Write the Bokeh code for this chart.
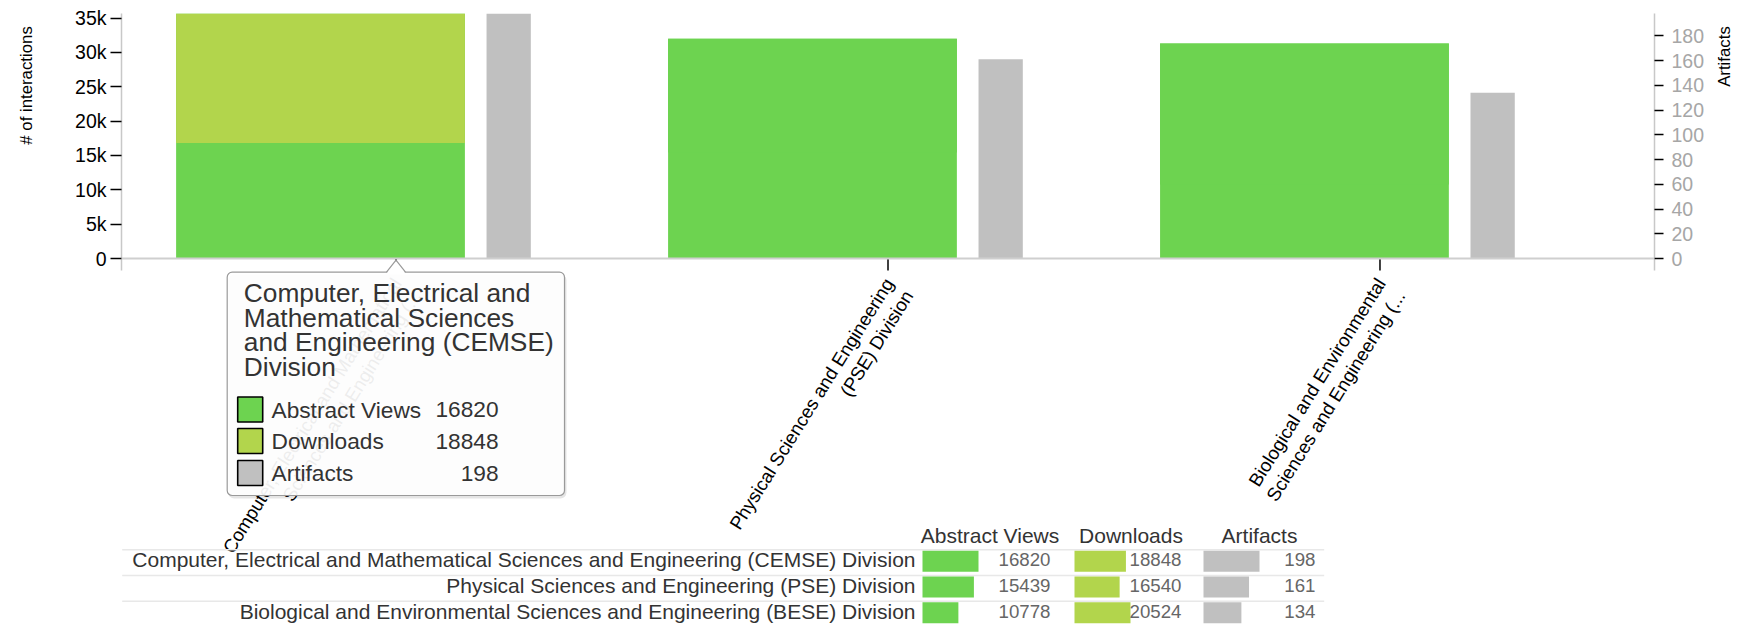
import math
import textwrap
from bokeh.plotting import figure
from bokeh.layouts import row
from bokeh.models import (FactorRange, Range1d, LinearAxis, FixedTicker, NumeralTickFormatter,
                          Span, BoxAnnotation, ColumnDataSource)
from bokeh.transform import dodge
from bokeh.core.properties import value
from bokeh.embed import file_html
from bokeh.resources import INLINE

# ---------------- data ----------------
categories = [
    "Computer, Electrical and Mathematical Sciences and Engineering (CEMSE) Division",
    "Physical Sciences and Engineering (PSE) Division",
    "Biological and Environmental Sciences and Engineering (BESE) Division",
]
tick_labels = [
    "Computer, Electrical and Mathematical\nSciences and Engineering (...",
    "Physical Sciences and Engineering\n(PSE) Division",
    "Biological and Environmental\nSciences and Engineering (...",
]
series = ["Abstract Views", "Downloads", "Artifacts"]
abstract_views = [16820, 15439, 10778]
downloads = [18848, 16540, 20524]
artifacts = [198, 161, 134]
left_ticks = [0, 5000, 10000, 15000, 20000, 25000, 30000, 35000]
right_ticks = [0, 20, 40, 60, 80, 100, 120, 140, 160, 180]
left_title = "# of interactions"
right_title = "Artifacts"
hovered = 0  # category shown in the tooltip

# ---------------- style / layout ----------------
GREEN = "#6dd350"
LIME = "#b2d54c"
GRAY = "#c0c0c0"
FONT = "Liberation Sans"
FS = "18.7px"        # category labels
TICK_FS = "19.5px"   # axis tick labels
TITLE_FS = "16.8px"  # axis titles
TAB_FS = "21px"      # table names / headers
VAL_FS = "18.7px"    # table values

TOTAL_W, H = 1745, 627
LEFT_W = 40                 # strip holding the left axis title
RIGHT_X = 1708              # strip holding the right axis title
FL, FR, FT, FB = 121, 1654, 13, H   # main frame edges in page pixels
Y0 = 258                              # baseline (value 0) in page pixels
PAD = 0.058                           # categorical padding per side
SPAN = len(categories) + 2 * PAD
UPX = SPAN / (FR - FL)                # categorical units per pixel


def sx(X):
    """page pixel -> categorical synthetic coordinate"""
    return -PAD + (X - FL) * UPX


totals = [a + d for a, d in zip(abstract_views, downloads)]
ymax_l = max(totals)
ymax_r = max(artifacts)
kl = (Y0 - FT) / ymax_l
kr = (Y0 - FT) / ymax_r

x_range = FactorRange(factors=categories, range_padding=PAD, range_padding_units="absolute")

p = figure(width=RIGHT_X - LEFT_W, height=H, x_range=x_range,
           y_range=Range1d(-(FB - Y0) / kl, ymax_l),
           output_backend="svg", toolbar_location=None, x_axis_location=None,
           min_border_left=FL - LEFT_W, min_border_right=RIGHT_X - FR,
           min_border_top=FT, min_border_bottom=0, title=None)
p.extra_y_ranges = {"art": Range1d(-(FB - Y0) / kr, ymax_r), "px": Range1d(FB, FT)}
p.grid.visible = False
p.outline_line_color = None
p.background_fill_color = "white"

# left axis
ax = p.yaxis[0]
ax.ticker = FixedTicker(ticks=left_ticks)
ax.formatter = NumeralTickFormatter(format="0a")
ax.bounds = (-12 / kl, ymax_l)
ax.axis_line_color = "#c8c8c8"
ax.axis_line_width = 1.5
ax.major_tick_line_color = "black"
ax.major_tick_line_width = 1.5
ax.major_tick_out = 11
ax.major_tick_in = 0
ax.minor_tick_line_color = None
ax.major_label_standoff = 4
ax.major_label_text_font = FONT
ax.major_label_text_font_size = TICK_FS
ax.major_label_text_color = "black"

# right axis
rax = LinearAxis(y_range_name="art", ticker=FixedTicker(ticks=right_ticks),
                 bounds=(-12 / kr, ymax_r))
rax.axis_line_color = "#c8c8c8"
rax.axis_line_width = 1.5
rax.major_tick_line_color = "black"
rax.major_tick_line_width = 1.5
rax.major_tick_out = 9
rax.major_tick_in = 0
rax.minor_tick_line_color = None
rax.major_label_standoff = 8
rax.major_label_text_font = FONT
rax.major_label_text_font_size = TICK_FS
rax.major_label_text_color = "#a6a6a6"
p.add_layout(rax, "right")

# baseline
p.add_layout(Span(location=0, dimension="width", line_color="#cfcfcf", line_width=2))

# ---------------- bars ----------------
src = ColumnDataSource(dict(
    cat=categories, av=abstract_views, total=totals, art=artifacts, lab=tick_labels,
    dl_color=[LIME if i == hovered else GREEN for i in range(len(categories))],
))
p.vbar(x=dodge("cat", -0.1535, range=p.x_range), width=0.587, bottom=0, top="total",
       source=src, fill_color=GREEN, line_color=None)
p.vbar(x=dodge("cat", -0.1535, range=p.x_range), width=0.587, bottom="av", top="total",
       source=src, fill_color="dl_color", line_color=None)
p.vbar(x=dodge("cat", 0.229, range=p.x_range), width=0.09, bottom=0, top="art",
       source=src, y_range_name="art", fill_color=GRAY, line_color=None)

# category ticks and labels
p.segment(x0="cat", y0=0, x1="cat", y1=-12 / kl, source=src, line_color="black", line_width=1.5)
p.text(x="cat", y=274, text="lab", source=src, y_range_name="px", x_offset=-8,
       angle=math.radians(58), text_align="right", text_baseline="top",
       text_font=value(FONT), text_font_size=FS, text_color="black", text_line_height=1.1)

# ---------------- tooltip ----------------
TL, TR, TT, TB = 226.7, 564, 271.7, 495
p.add_layout(BoxAnnotation(left=sx(TL + 1), right=sx(TR + 2), top=TT + 2, bottom=TB + 3,
                           y_range_name="px", fill_color="black",
                           fill_alpha=0.10, line_color=None, border_radius=6))
p.add_layout(BoxAnnotation(left=sx(TL), right=sx(TR), top=TT, bottom=TB,
                           y_range_name="px", fill_color="white",
                           fill_alpha=0.93, line_color="#9a9a9a", line_width=1.2,
                           line_alpha=1.0, border_radius=5))
ax_c = 395.5
p.patch(x=[sx(ax_c - 9.5), sx(ax_c), sx(ax_c + 9.5)], y=[TT + 1.2, TT - 12, TT + 1.2],
        y_range_name="px", fill_color="white", line_color=None, level="overlay")
p.line(x=[sx(ax_c - 9.5), sx(ax_c), sx(ax_c + 9.5)], y=[TT, TT - 12, TT],
       y_range_name="px", line_color="#9a9a9a", line_width=1.2, level="overlay")

title_lines = textwrap.wrap(categories[hovered], 24)
p.text(x=[sx(243.3)] * len(title_lines), y=[292.3 + 24.8 * i for i in range(len(title_lines))],
       text=title_lines, y_range_name="px", text_baseline="alphabetic",
       text_align="left", text_font=value(FONT), text_font_size="26.3px", text_color="#333333",
       level="overlay")
row_y = [409, 440.5, 472.5]
tip_vals = [abstract_views[hovered], downloads[hovered], artifacts[hovered]]
p.rect(x=[sx(249.7)] * 3, y=row_y, width=25 * UPX, height=25, y_range_name="px",
       fill_color=[GREEN, LIME, GRAY], line_color="black", line_width=1.6, level="overlay")
p.text(x=[sx(271)] * 3, y=row_y, text=series, y_range_name="px",
       text_baseline="middle", text_align="left", text_font=value(FONT),
       text_font_size="22.7px", text_color="#333333", level="overlay")
p.text(x=[sx(498)] * 3, y=row_y, text=[str(v) for v in tip_vals],
       y_range_name="px", text_baseline="middle", text_align="right", text_font=value(FONT),
       text_font_size="22.7px", text_color="#333333", level="overlay")

# ---------------- table ----------------
row_tops = [549.3, 575.0, 600.7]
row_c = [t + 10 for t in row_tops]
col_start = [922, 1074, 1203]
col_end = [1050, 1181, 1315]
head_c = [989.5, 1130.5, 1259]
BARW = 56
p.segment(x0=[sx(121.7)] * 3, x1=[sx(1323.7)] * 3, y0=row_tops, y1=row_tops,
          y_range_name="px", line_color="#e8e8e8", line_width=1.5)
p.text(x=[sx(c) for c in head_c], y=[535] * 3, text=series,
       y_range_name="px", text_align="center", text_baseline="middle",
       text_font=value(FONT), text_font_size=TAB_FS, text_color="#333333")
p.text(x=[sx(915)] * 3, y=row_c, text=categories, y_range_name="px",
       text_align="right", text_baseline="middle", text_font=value(FONT),
       text_font_size=TAB_FS, text_color="#333333")
for vals, color, x0, x1 in zip([abstract_views, downloads, artifacts], [GREEN, LIME, GRAY],
                               col_start, col_end):
    m = max(vals)
    p.hbar(y=[c + 1.5 for c in row_c], left=[sx(x0)] * 3,
           right=[sx(x0 + v / m * BARW) for v in vals],
           height=21, y_range_name="px", fill_color=color, line_color=None)
    p.text(x=[sx(x1)] * 3, y=row_c, text=[str(v) for v in vals],
           y_range_name="px", text_align="right", text_baseline="middle",
           text_font=value(FONT), text_font_size=VAL_FS, text_color="#666666")


# ---------------- axis title strips ----------------
def strip(x0, x1, title, tx):
    f = figure(width=x1 - x0, height=H, x_range=Range1d(x0, x1), y_range=Range1d(H, 0),
               output_backend="svg", toolbar_location=None, x_axis_location=None,
               y_axis_location=None, min_border=0, title=None)
    f.grid.visible = False
    f.outline_line_color = None
    f.text(x=[tx], y=[FT], text=[title], angle=math.pi / 2, text_align="right",
           text_baseline="middle", text_font=value(FONT), text_font_size=TITLE_FS,
           text_color="black")
    return f


left_strip = strip(0, LEFT_W, left_title, 25.5)
right_strip = strip(RIGHT_X, TOTAL_W, right_title, 1724)

layout = row(left_strip, p, right_strip)
open("out.html", "w").write(file_html(layout, INLINE))
